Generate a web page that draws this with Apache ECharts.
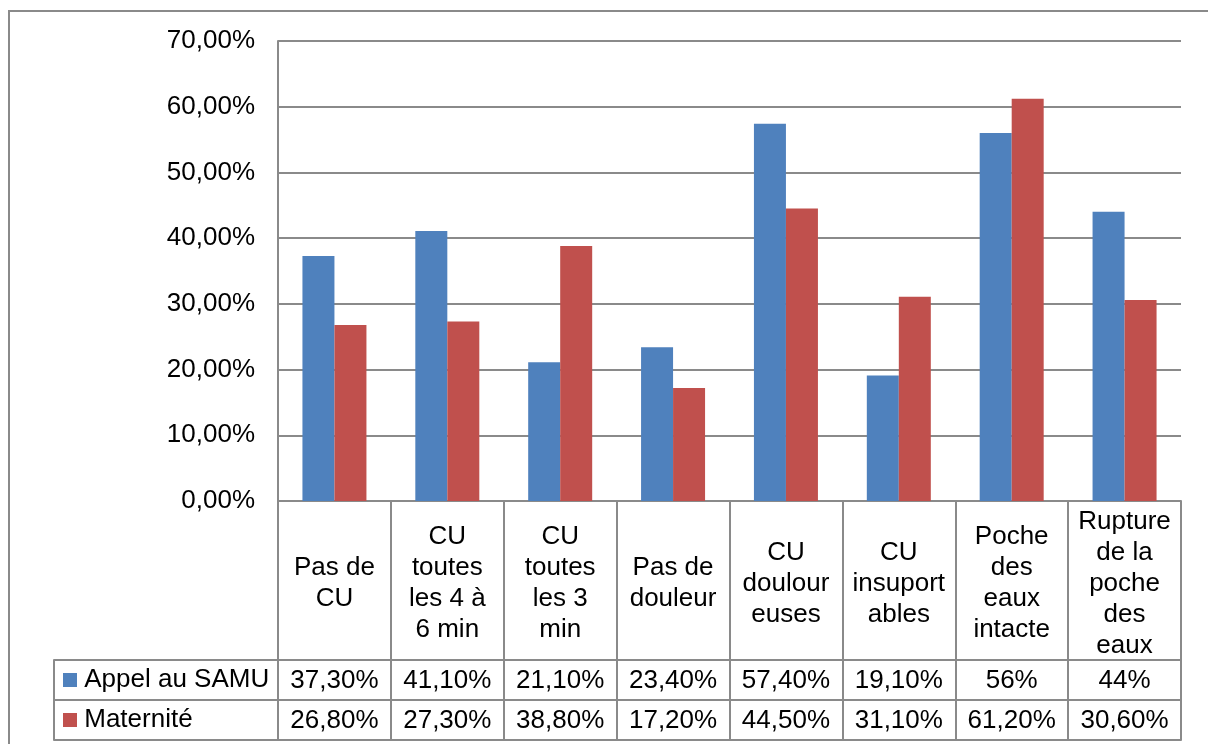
<!DOCTYPE html>
<html>
<head>
<meta charset="utf-8">
<script src="https://cdn.jsdelivr.net/npm/echarts@6/dist/echarts.min.js"></script>
<style>
  html, body { margin: 0; padding: 0; background: #fff; }
  #chart { width: 1208px; height: 744px; }
</style>
</head>
<body>
<div id="chart"></div>
<script>
// catégories (en-têtes du tableau)
const categories = [
  'Pas de\nCU',
  'CU\ntoutes\nles 4 à\n6 min',
  'CU\ntoutes\nles 3\nmin',
  'Pas de\ndouleur',
  'CU\ndoulour\neuses',
  'CU\ninsuport\nables',
  'Poche\ndes\neaux\nintacte',
  'Rupture\nde la\npoche\ndes\neaux'
];
const seriesNames = ['Appel au SAMU', 'Maternité'];
const samu = [0.373, 0.411, 0.211, 0.234, 0.574, 0.191, 0.56, 0.44];
const maternite = [0.268, 0.273, 0.388, 0.172, 0.445, 0.311, 0.612, 0.306];
const samuLabels = ['37,30%', '41,10%', '21,10%', '23,40%', '57,40%', '19,10%', '56%', '44%'];
const materniteLabels = ['26,80%', '27,30%', '38,80%', '17,20%', '44,50%', '31,10%', '61,20%', '30,60%'];
const yTicks = { min: 0, max: 0.7, interval: 0.1 };

const colors = ['#4F81BD', '#C0504D'];
const lineCol = '#8a8a8a';
const font = '"Liberation Sans", Arial, sans-serif';

const chart = echarts.init(document.getElementById('chart'));

const pct = v => (v * 100).toFixed(2).replace('.', ',') + '%';
const gline = { show: true, lineStyle: { color: lineCol, width: 2 } };

// cellule de texte : symbole invisible, libellé opaque
const cellStyle = { color: 'rgba(0,0,0,0)', opacity: 1 };
const cellLabel = (fmt, extra) => Object.assign({
  show: true, position: 'inside', fontSize: 26, color: '#000',
  fontFamily: font, textBorderWidth: 0, formatter: fmt
}, extra || {});

chart.setOption({
  animation: false,
  textStyle: { fontFamily: font },
  graphic: [{
    type: 'rect',
    shape: { x: 9, y: 11, width: 1260, height: 800 },
    style: { fill: 'none', stroke: lineCol, lineWidth: 2 },
    silent: true
  }],
  grid: [
    { left: 278, top: 41, width: 903, height: 460 },
    { left: 278, top: 501, width: 903, height: 159 },
    { left: 278, top: 660, width: 903, height: 80 }
  ],
  xAxis: [
    {
      gridIndex: 0, type: 'category', data: categories,
      axisLine: gline, axisTick: { show: false }, axisLabel: { show: false }
    },
    {
      gridIndex: 1, type: 'category', data: categories,
      axisLine: gline, axisTick: { show: false }, axisLabel: { show: false },
      splitLine: gline
    },
    {
      gridIndex: 2, type: 'category', data: categories,
      axisLine: gline, axisTick: { show: false }, axisLabel: { show: false },
      splitLine: gline
    }
  ],
  yAxis: [
    {
      gridIndex: 0, type: 'value', min: yTicks.min, max: yTicks.max, interval: yTicks.interval,
      axisLine: gline, axisTick: { show: false },
      axisLabel: { formatter: pct, fontSize: 26, color: '#000', margin: 23, fontFamily: font },
      splitLine: gline
    },
    {
      gridIndex: 1, type: 'value', min: 0, max: 1, show: false
    },
    {
      gridIndex: 2, type: 'category', data: seriesNames, inverse: true,
      axisLine: { show: false },
      axisTick: { show: true, length: 224, lineStyle: { color: lineCol, width: 2 } },
      splitLine: gline,
      axisLabel: {
        align: 'left', margin: 215, fontSize: 26, color: '#000', fontFamily: font,
        formatter: v => (v === seriesNames[0] ? '{a|}' : '{b|}') + ' ' + v,
        rich: {
          a: { width: 14, height: 14, backgroundColor: colors[0] },
          b: { width: 14, height: 14, backgroundColor: colors[1] }
        }
      }
    },
    {
      gridIndex: 2, type: 'category', data: seriesNames, position: 'left', offset: 224,
      axisLine: gline, axisTick: { show: false }, axisLabel: { show: false }
    }
  ],
  series: [
    {
      name: seriesNames[0], type: 'bar', xAxisIndex: 0, yAxisIndex: 0,
      data: samu, barWidth: 32, barGap: '0%', itemStyle: { color: colors[0] }
    },
    {
      name: seriesNames[1], type: 'bar', xAxisIndex: 0, yAxisIndex: 0,
      data: maternite, barWidth: 32, barGap: '0%', itemStyle: { color: colors[1] }
    },
    {
      type: 'scatter', xAxisIndex: 1, yAxisIndex: 1, symbolSize: 1,
      itemStyle: cellStyle,
      data: categories.map((c, i) => [i, 0.5]),
      label: cellLabel(p => categories[p.dataIndex], { lineHeight: 31, offset: [0, 3] })
    },
    {
      type: 'scatter', xAxisIndex: 2, yAxisIndex: 2, symbolSize: 1,
      itemStyle: cellStyle,
      data: samuLabels.map((s, i) => [i, seriesNames[0]]),
      label: cellLabel(p => samuLabels[p.dataIndex], { offset: [0, 1] })
    },
    {
      type: 'scatter', xAxisIndex: 2, yAxisIndex: 2, symbolSize: 1,
      itemStyle: cellStyle,
      data: materniteLabels.map((s, i) => [i, seriesNames[1]]),
      label: cellLabel(p => materniteLabels[p.dataIndex], { offset: [0, 1] })
    }
  ]
});
</script>
</body>
</html>
